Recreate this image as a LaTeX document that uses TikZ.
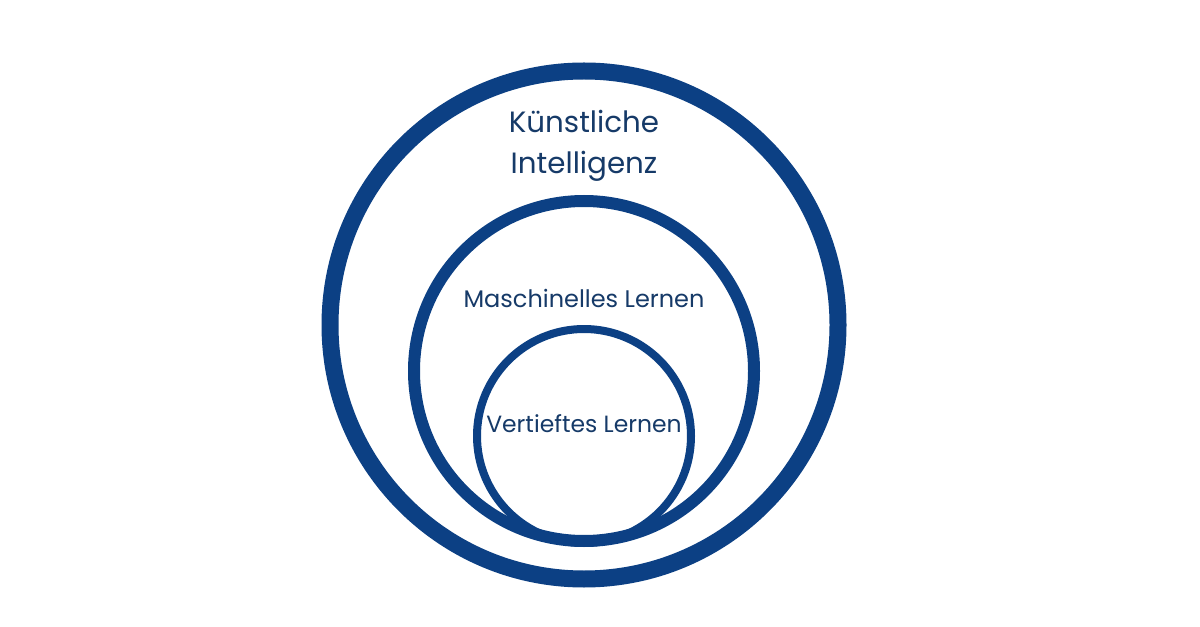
\documentclass[tikz,border=0pt]{standalone}
\usepackage{fontspec}
\setmainfont{Poppins}
\usepackage{xcolor}
\definecolor{kiblue}{RGB}{12,64,132}
\definecolor{kitext}{RGB}{22,58,104}

\begin{document}
\begin{tikzpicture}[line cap=round,line join=round,x=0.75pt,y=-0.75pt,
  every node/.style={text=kitext, inner sep=0pt}]
\useasboundingbox [fill=white] (0,0) rectangle (1200,627);

% Mittelpunkte der Kreise
\coordinate (KI) at (584, 325);
\coordinate (ML) at (584, 371);
\coordinate (DL) at (584, 436);

% --- Kreise ---
% äußerer Kreis: Künstliche Intelligenz
\draw [line width=12.75pt, color=kiblue] (KI) circle (254);
% mittlerer Kreis: Maschinelles Lernen
\draw [line width=9pt, color=kiblue] (ML) circle (170);
% innerer Kreis: Vertieftes Lernen
\draw [line width=6pt, color=kiblue] (DL) circle (107);

% --- Beschriftungen ---
\node (kilabel1) at (584, 133) [anchor=base, font=\fontsize{22pt}{30pt}\selectfont] {Künstliche};
\node (kilabel2) at (584, 174) [anchor=base, font=\fontsize{22pt}{30pt}\selectfont] {Intelligenz};
\node (mllabel) at (584, 308) [anchor=base, font=\fontsize{18pt}{22pt}\selectfont] {Maschinelles Lernen};
\node (dllabel) at (584, 432) [anchor=base, font=\fontsize{17.6pt}{22pt}\selectfont] {Vertieftes Lernen};

\end{tikzpicture}
\end{document}
